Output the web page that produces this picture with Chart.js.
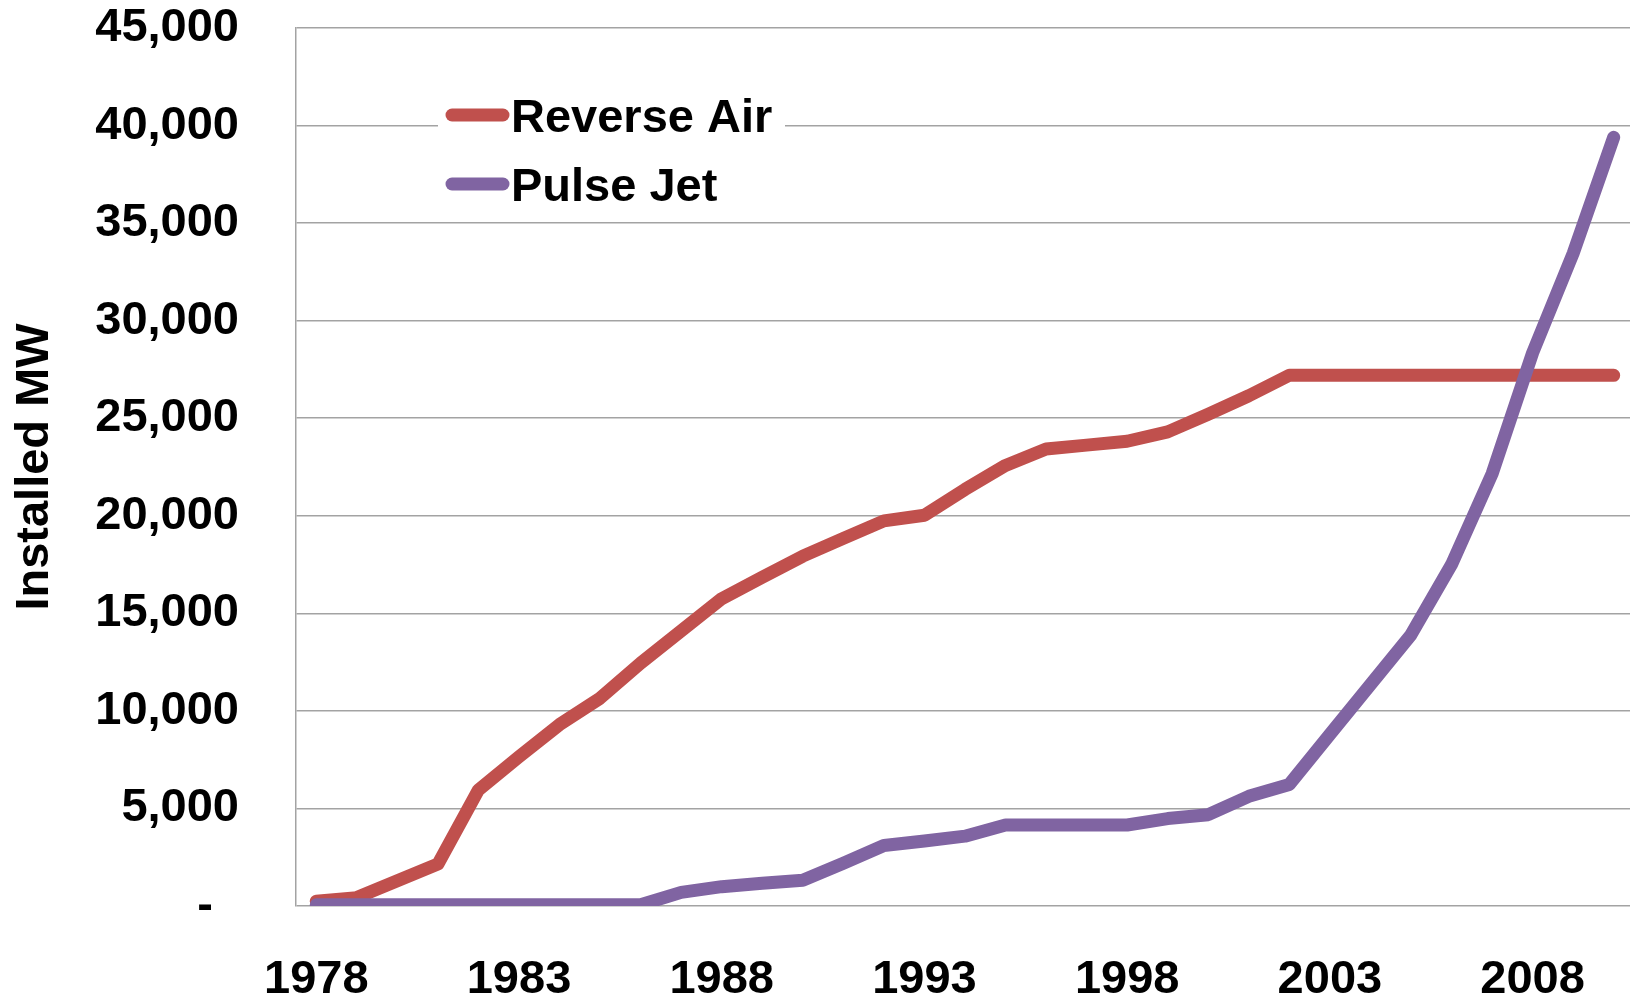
<!DOCTYPE html>
<html>
<head>
<meta charset="utf-8">
<script src="https://cdn.jsdelivr.net/npm/chart.js@4.4.1/dist/chart.umd.min.js"></script>
<style>
    html, body { margin: 0; padding: 0; background: #ffffff; overflow: hidden; }
    #wrap { width: 1630px; height: 999px; overflow: hidden; }
    #chart { display: block; }
</style>
</head>
<body>
<div id="wrap"><canvas id="chart" width="1660" height="999"></canvas></div>
<script>
// categories
var years = ['1978', '1979', '1980', '1981', '1982', '1983', '1984', '1985', '1986', '1987',
             '1988', '1989', '1990', '1991', '1992', '1993', '1994', '1995', '1996', '1997',
             '1998', '1999', '2000', '2001', '2002', '2003', '2004', '2005', '2006', '2007',
             '2008', '2009', '2010'];

// installed MW
var reverseAir = [250, 430, 1300, 2150, 5950, 7650, 9300, 10650, 12450, 14100,
                  15750, 16850, 17930, 18840, 19740, 20030, 21350, 22580, 23420, 23620,
                  23820, 24300, 25200, 26150, 27200, 27200, 27200, 27200, 27200, 27200,
                  27200, 27200, 27200];
var pulseJet = [60, 60, 60, 60, 60, 60, 60, 60, 60, 700,
                990, 1170, 1320, 2190, 3100, 3330, 3580, 4150, 4150, 4150,
                4150, 4480, 4680, 5620, 6230, 8800, 11350, 13900, 17500, 22150,
                28350, 33450, 39400];

// tick labels shown on the category axis
var yearLabels = ['1978', '1983', '1988', '1993', '1998', '2003', '2008'];

var seriesNames = ['Reverse Air', 'Pulse Jet'];
var seriesColors = ['#c0504d', '#8064a2'];

var FONT = '"Liberation Sans", Arial, sans-serif';
var GRID = '#a3a3a3';

// legend drawn inside the plot, on a white box over the gridlines
var insideLegend = {
    id: 'insideLegend',
    beforeDatasetsDraw: function (chart) {
        var ctx = chart.ctx;
        ctx.save();
        ctx.fillStyle = '#ffffff';
        ctx.fillRect(438, 80, 347, 136);
        var rows = [115, 184];
        chart.data.datasets.forEach(function (ds, i) {
            var y = rows[i];
            ctx.strokeStyle = ds.borderColor;
            ctx.lineWidth = 13;
            ctx.lineCap = 'round';
            ctx.beginPath();
            ctx.moveTo(452, y);
            ctx.lineTo(503, y);
            ctx.stroke();
            ctx.fillStyle = '#000000';
            ctx.font = 'bold 47px ' + FONT;
            ctx.textBaseline = 'alphabetic';
            ctx.textAlign = 'left';
            ctx.fillText(ds.label, 511, y + 17);
        });
        ctx.restore();
    }
};

var chart = new Chart(document.getElementById('chart'), {
    type: 'line',
    data: {
        labels: years,
        datasets: [
            {
                label: seriesNames[0],
                data: reverseAir,
                borderColor: seriesColors[0],
                backgroundColor: seriesColors[0],
                borderWidth: 13,
                borderCapStyle: 'round',
                borderJoinStyle: 'round',
                pointRadius: 0,
                tension: 0,
                order: 1
            },
            {
                label: seriesNames[1],
                data: pulseJet,
                borderColor: seriesColors[1],
                backgroundColor: seriesColors[1],
                borderWidth: 13,
                borderCapStyle: 'round',
                borderJoinStyle: 'round',
                pointRadius: 0,
                tension: 0,
                order: 0
            }
        ]
    },
    options: {
        responsive: false,
        animation: false,
        layout: { padding: { top: 0, right: 20, bottom: 0, left: 0 } },
        plugins: {
            legend: { display: false },
            tooltip: { enabled: false }
        },
        scales: {
            x: {
                type: 'category',
                offset: true,
                grid: { display: false, drawTicks: false },
                border: { display: false },
                ticks: {
                    autoSkip: false,
                    maxRotation: 0,
                    minRotation: 0,
                    padding: 46,
                    color: '#000000',
                    font: { family: FONT, size: 47, weight: 'bold' },
                    callback: function (value) {
                        var lab = this.getLabelForValue(value);
                        return yearLabels.indexOf(lab) >= 0 ? lab : '';
                    }
                },
                afterFit: function (scale) { scale.height = 93; }
            },
            y: {
                min: 0,
                max: 45000,
                grid: { color: GRID, lineWidth: 1.5, drawTicks: false },
                border: { display: true, color: GRID, width: 1.5 },
                ticks: {
                    stepSize: 5000,
                    padding: 57,
                    color: '#000000',
                    font: { family: FONT, size: 47, weight: 'bold' },
                    callback: function (value) {
                        if (value === 0) return '-  ';
                        return value.toLocaleString('en-US');
                    }
                },
                title: {
                    display: true,
                    text: 'Installed MW',
                    color: '#000000',
                    font: { family: FONT, size: 47, weight: 'bold' },
                    padding: { top: 7, bottom: 0 }
                },
                afterFit: function (scale) {
                    scale.width = 296;
                    scale.paddingTop = 28;
                    scale.paddingBottom = 0;
                }
            }
        }
    },
    plugins: [insideLegend]
});
</script>
</body>
</html>
